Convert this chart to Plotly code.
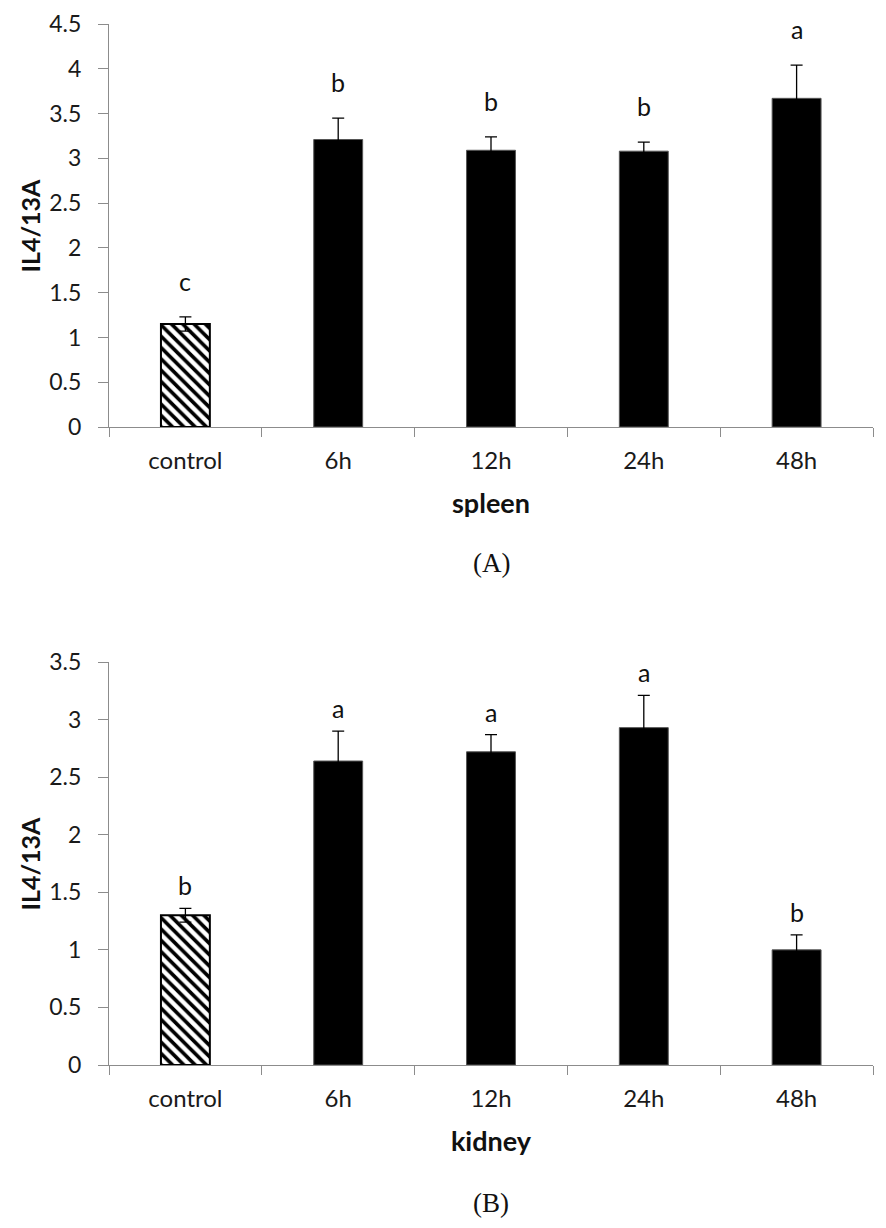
import plotly.graph_objects as go

# values
categories = ["control", "6h", "12h", "24h", "48h"]

spleen_mean = [1.15, 3.21, 3.09, 3.08, 3.67]
spleen_err = [0.08, 0.24, 0.15, 0.10, 0.37]
spleen_letters = ["c", "b", "b", "b", "a"]

kidney_mean = [1.30, 2.64, 2.72, 2.93, 1.00]
kidney_err = [0.06, 0.26, 0.15, 0.28, 0.13]
kidney_letters = ["b", "a", "a", "a", "b"]

panels = [
    ("spleen", "(A)", spleen_mean, spleen_err, spleen_letters, [0, 4.5], 0.5, 36),
    ("kidney", "(B)", kidney_mean, kidney_err, kidney_letters, [0, 3.5], 0.5, 23),
]

W, H = 886, 1228
OFF = 8  # page body margin
# plot areas in page pixels (top, bottom) for each panel
areas = [(24, 427), (662, 1065)]
tag_y = [563, 1203]
x_left, x_right = 109, 873

SANS = "Lato, Noto Sans, sans-serif"
fig = go.Figure()

for i, (organ, tag, mean, err, letters, yr, dt, shift) in enumerate(panels):
    n = str(i + 1) if i else ""
    xa, ya = "x" + n, "y" + n
    top, bot = areas[i][0] - OFF, areas[i][1] - OFF

    # control bar: hatched
    fig.add_trace(go.Bar(
        x=categories[:1], y=mean[:1], xaxis=xa, yaxis=ya, width=0.32,
        marker=dict(color="white", line=dict(color="black", width=2),
                    pattern=dict(shape="\\", fgcolor="black", bgcolor="white", fgopacity=1,
                                 size=8, solidity=0.45, fillmode="replace")),
        error_y=dict(type="data", array=err[:1], color="black", thickness=1.3, width=6),
        showlegend=False,
    ))
    # time points: solid black
    fig.add_trace(go.Bar(
        x=categories[1:], y=mean[1:], xaxis=xa, yaxis=ya, width=0.32,
        marker=dict(color="black", line=dict(color="#555555", width=1)),
        error_y=dict(type="data", array=err[1:], color="black", thickness=1.3, width=6),
        showlegend=False,
    ))

    for c, m, e, t in zip(categories, mean, err, letters):
        fig.add_annotation(x=c, y=m + e, xref=xa, yref=ya, text=t, showarrow=False,
                           yanchor="middle", yshift=shift,
                           font=dict(family=SANS, size=25, color="#111"))

    fig.update_layout({
        ("xaxis" + n): dict(domain=[(x_left - OFF) / W, (x_right - OFF) / W], anchor=ya, automargin=False,
                            categoryorder="array", categoryarray=categories,
                            showline=True, linecolor="#8c8c8c", linewidth=1.3,
                            ticks="outside", tickson="boundaries", ticklen=9,
                            ticklabelstandoff=12,
                            tickcolor="#8c8c8c", tickfont=dict(family=SANS, size=24, color="#1a1a1a"),
                            title=dict(text="<b>" + organ + "</b>", standoff=21,
                                       font=dict(family=SANS, size=27, color="#111"))),
        ("yaxis" + n): dict(domain=[1 - bot / H, 1 - top / H], anchor=xa, automargin=False,
                            range=yr, dtick=dt, showline=True, linecolor="#8c8c8c", linewidth=1.3,
                            ticks="outside", ticklen=10, tickcolor="#8c8c8c",
                            showgrid=False, zeroline=False,
                            tickfont=dict(family=SANS, size=23, color="#1a1a1a"),
                            ticklabelstandoff=12),
    })

    # y-axis title
    fig.add_annotation(x=(29 - OFF) / W, y=1 - ((top + bot) / 2) / H, xref="paper", yref="paper",
                       text="<b>IL4/13A</b>", textangle=-90, showarrow=False,
                       xanchor="center", yanchor="middle",
                       font=dict(family=SANS, size=25, color="#111"))

    fig.add_annotation(x=0.5 * (x_left + x_right) / W - OFF / W, y=1 - (tag_y[i] - OFF) / H,
                       xref="paper", yref="paper", text=tag, showarrow=False, yanchor="middle",
                       font=dict(family="Liberation Serif, Times New Roman, serif", size=27, color="#111"))

fig.update_layout(width=W, height=H, margin=dict(l=0, r=0, t=0, b=0, autoexpand=False),
                  plot_bgcolor="white", paper_bgcolor="white", barmode="overlay")

fig.write_html("out.html")
